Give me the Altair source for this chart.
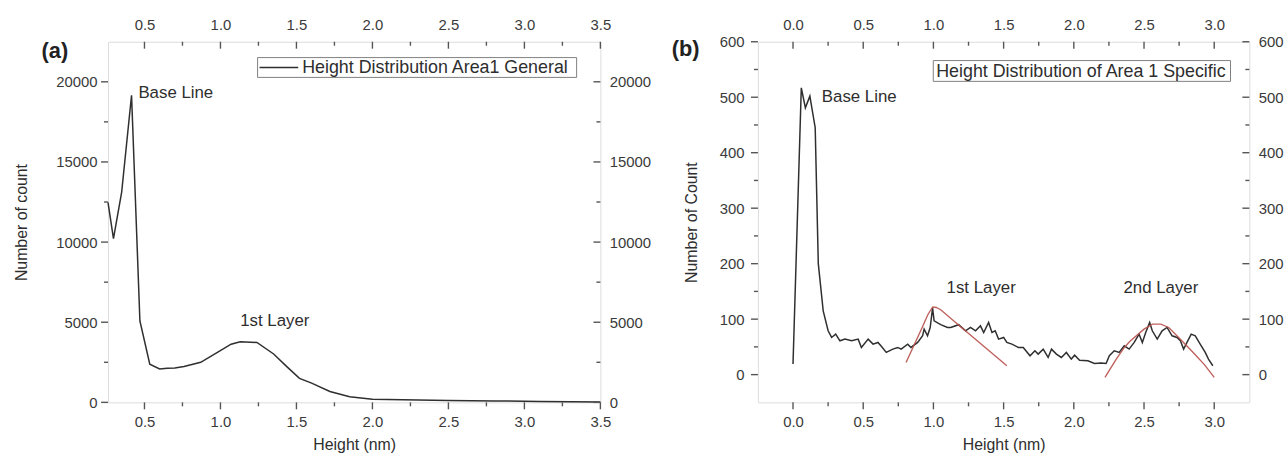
import altair as alt
import pandas as pd

# ---------------- data ----------------
# Panel (a): Height Distribution Area1 General
height_a = [0.26, 0.296, 0.35, 0.415, 0.47, 0.535, 0.60, 0.65, 0.70, 0.76, 0.87, 0.98,
            1.07, 1.13, 1.24, 1.35, 1.44, 1.52, 1.60, 1.72, 1.85, 2.0, 2.2, 2.5, 2.8, 3.1, 3.5]
count_a = [12480, 10220, 13120, 19160, 5080, 2380, 2090, 2130, 2150, 2240, 2500, 3120,
           3630, 3780, 3740, 3020, 2200, 1500, 1200, 680, 350, 200, 170, 120, 90, 60, 30]

# Panel (b): Height Distribution of Area 1 Specific
height_b = [0.0, 0.059, 0.088, 0.12, 0.158, 0.18, 0.215, 0.25, 0.275, 0.304, 0.334, 0.37,
            0.417, 0.464, 0.487, 0.535, 0.57, 0.605, 0.629, 0.664, 0.711, 0.746, 0.77,
            0.817, 0.84, 0.888, 0.923, 0.934, 0.958, 0.977, 0.994, 1.005, 1.052, 1.10,
            1.123, 1.18, 1.229, 1.264, 1.30, 1.335, 1.358, 1.393, 1.417, 1.44, 1.464,
            1.50, 1.523, 1.559, 1.605, 1.64, 1.688, 1.723, 1.746, 1.782, 1.817, 1.841,
            1.876, 1.911, 1.947, 1.982, 2.006, 2.041, 2.10, 2.147, 2.194, 2.23, 2.253,
            2.288, 2.323, 2.359, 2.394, 2.43, 2.465, 2.488, 2.512, 2.54, 2.559, 2.594,
            2.629, 2.664, 2.70, 2.735, 2.759, 2.782, 2.806, 2.836, 2.865, 2.90, 2.936,
            2.959, 2.99]
count_b = [19, 517, 481, 502, 445, 200, 115, 79, 67, 73, 61, 64,
           61, 64, 49, 64, 55, 58, 51, 40, 46, 49, 46,
           55, 49, 58, 70, 82, 70, 85, 120, 97, 90, 85,
           85, 90, 79, 85, 79, 88, 76, 94, 76, 79, 64,
           67, 58, 55, 49, 49, 34, 43, 37, 46, 31, 46,
           37, 31, 40, 28, 35, 26, 25, 20, 21, 20, 34,
           43, 40, 52, 46, 58, 73, 58, 76, 94, 79, 64,
           79, 85, 70, 67, 61, 46, 58, 73, 70, 55, 40,
           28, 16]

# Red fitted peaks in panel (b)
fit1_h = [0.805, 0.86, 0.92, 0.96, 0.995, 1.02, 1.052, 1.2, 1.35, 1.523]
fit1_n = [22, 52, 85, 108, 122, 121, 117, 85, 53, 16]
fit2_h = [2.222, 2.30, 2.36, 2.40, 2.50, 2.56, 2.62, 2.676, 2.75, 2.85, 2.93, 3.0]
fit2_n = [-5, 27, 49, 60, 82, 91, 91, 85, 66, 40, 18, -5]

# Axis ticks
xmaj_a = [0.5, 1.0, 1.5, 2.0, 2.5, 3.0, 3.5]
xmin_a = [0.75, 1.25, 1.75, 2.25, 2.75, 3.25]
ymaj_a = [0, 5000, 10000, 15000, 20000]
ymin_a = [2500, 7500, 12500, 17500]
xmaj_b = [0.0, 0.5, 1.0, 1.5, 2.0, 2.5, 3.0]
xmin_b = [0.25, 0.75, 1.25, 1.75, 2.25, 2.75]
ymaj_b = [0, 100, 200, 300, 400, 500, 600]
ymin_b = [50, 150, 250, 350, 450, 550]

# Annotations
ann_a_text = ["Base Line", "1st Layer"]
ann_a_x = [0.46, 1.358]
ann_a_y = [19290, 5100]
ann_a_align = ["left", "center"]
ann_b_text = ["Base Line", "1st Layer", "2nd Layer"]
ann_b_x = [0.205, 1.34, 2.62]
ann_b_y = [501, 156, 156]

legend_a = "Height Distribution Area1 General"
legend_b = "Height Distribution of Area 1 Specific"

# ---------------- style ----------------
FONT = "Liberation Sans"
AXC = "#555555"
LINEC = "#2f2f2f"
TXT = "#2e2e2e"
LAB = "#3a3a3a"
REDC = "#b8504a"


def tick_layers(xs, ys, xmaj, xmin, ymaj, ymin, W, H, big=7, small=4):
    layers = []
    for vals, ln in ((xmaj, big), (xmin, small)):
        d = pd.DataFrame({"v": vals})
        x = alt.X("v:Q", scale=xs, axis=None)
        layers.append(alt.Chart(d).mark_rule(color=AXC, strokeWidth=1.4).encode(
            x=x, y=alt.value(H), y2=alt.value(H + ln)))
        layers.append(alt.Chart(d).mark_rule(color=AXC, strokeWidth=1.4).encode(
            x=x, y=alt.value(0), y2=alt.value(ln)))
    for vals, ln in ((ymaj, big), (ymin, small)):
        d = pd.DataFrame({"v": vals})
        y = alt.Y("v:Q", scale=ys, axis=None)
        layers.append(alt.Chart(d).mark_rule(color=AXC, strokeWidth=1.4).encode(
            y=y, x=alt.value(0), x2=alt.value(-ln)))
        layers.append(alt.Chart(d).mark_rule(color=AXC, strokeWidth=1.4).encode(
            y=y, x=alt.value(W), x2=alt.value(W - ln)))
    return layers


def axes_common(**kw):
    base = dict(domain=False, grid=False, ticks=False, tickSize=0, labelFlush=False,
                labelOverlap=False, labelFontSize=15, labelColor=LAB, labelFont=FONT,
                titleFontSize=16, titleColor=TXT, titleFont=FONT, titleFontWeight="normal")
    base.update(kw)
    return alt.Axis(**base)


def panel(h, n, xdom, ydom, xmaj, xmin, ymaj, ymin, W, H, xlab_pad, ylab_pad,
          ytitle, ytitle_pad, ann, legend_text, legend_box, legend_line, letter, letter_pos,
          yfmt, fits=None, xfmt=".1f"):
    xs = alt.Scale(domain=xdom, nice=False, zero=False)
    ys = alt.Scale(domain=ydom, nice=False, zero=False)
    df = pd.DataFrame({"h": h, "n": n})

    main = alt.Chart(df).mark_line(color=LINEC, strokeWidth=1.5).encode(
        x=alt.X("h:Q", scale=xs, axis=axes_common(orient="bottom", values=xmaj, format=xfmt,
                                                   labelPadding=xlab_pad, title="Height (nm)",
                                                   titlePadding=8)),
        y=alt.Y("n:Q", scale=ys, axis=axes_common(orient="left", values=ymaj, format=yfmt,
                                                   labelPadding=ylab_pad, title=ytitle,
                                                   titlePadding=ytitle_pad)),
    )
    mirror = alt.Chart(df).mark_line(strokeOpacity=0).encode(
        x=alt.X("h:Q", scale=xs, axis=axes_common(orient="top", values=xmaj, format=xfmt,
                                                   labelPadding=9, title=None)),
        y=alt.Y("n:Q", scale=ys, axis=axes_common(orient="right", values=ymaj, format=yfmt,
                                                   labelPadding=9, title=None)),
    )
    layers = [main, mirror]
    if fits:
        for fh, fn in fits:
            fd = pd.DataFrame({"h": fh, "n": fn})
            layers.append(alt.Chart(fd).mark_line(color=REDC, strokeWidth=1.4, opacity=0.9).encode(
                x=alt.X("h:Q", scale=xs, axis=None), y=alt.Y("n:Q", scale=ys, axis=None)))
    layers += tick_layers(xs, ys, xmaj, xmin, ymaj, ymin, W, H)

    ad = pd.DataFrame({"t": ann[0], "x": ann[1], "y": ann[2], "al": ann[3]})
    for al in sorted(set(ann[3])):
        layers.append(alt.Chart(ad).transform_filter(alt.datum.al == al).mark_text(
            fontSize=17, font=FONT, color=TXT, align=al, baseline="middle").encode(
            x=alt.X("x:Q", scale=xs, axis=None), y=alt.Y("y:Q", scale=ys, axis=None), text="t:N"))

    one = pd.DataFrame({"t": [legend_text]})
    bx0, bx1, by0, by1 = legend_box
    layers.append(alt.Chart(one).mark_rect(fill="white", stroke="#808080", strokeWidth=1).encode(
        x=alt.value(bx0), x2=alt.value(bx1), y=alt.value(by0), y2=alt.value(by1)))
    tx = bx0 + 3
    if legend_line:
        lx0, lx1 = legend_line
        layers.append(alt.Chart(one).mark_rule(color=LINEC, strokeWidth=1.5).encode(
            x=alt.value(lx0), x2=alt.value(lx1), y=alt.value((by0 + by1) / 2)))
        tx = lx1 + 4
    layers.append(alt.Chart(one).mark_text(fontSize=18, font=FONT, color=TXT, align="left",
                                           baseline="middle").encode(
        x=alt.value(tx), y=alt.value((by0 + by1) / 2 + 1), text="t:N"))

    lt = pd.DataFrame({"t": [letter]})
    layers.append(alt.Chart(lt).mark_text(fontSize=22, font=FONT, fontWeight="bold", color="#222222",
                                          align="left", baseline="middle").encode(
        x=alt.value(letter_pos[0]), y=alt.value(letter_pos[1]), text="t:N"))

    return alt.layer(*layers).resolve_axis(x="independent", y="independent").properties(
        width=W, height=H)


left = panel(height_a, count_a, [0.26, 3.5], [0, 22500], xmaj_a, xmin_a, ymaj_a, ymin_a,
             497, 364, 12, 11, "Number of count", 27,
             (ann_a_text, ann_a_x, ann_a_y, ann_a_align), legend_a,
             (151, 473, 16, 36), (153, 192), "(a)", (-67, 9), "d")

right = panel(height_b, count_b, [-0.25, 3.25], [-50, 600], xmaj_b, xmin_b, ymaj_b, ymin_b,
              496, 364, 12, 14, "Number of Count", 20,
              (ann_b_text, ann_b_x, ann_b_y, ["left", "center", "center"]), legend_b,
              (177, 477, 19, 40), None, "(b)", (-87, 7), "d",
              fits=[(fit1_h, fit1_n), (fit2_h, fit2_n)])

chart = alt.hconcat(left, right, spacing=19).properties(
    padding={"left": 12, "top": 15, "right": 0, "bottom": 0},
    background="white",
).configure_view(stroke=AXC, strokeWidth=1.5).configure(font=FONT)

chart.save("out.html", embed_options={"renderer": "svg", "actions": False})
